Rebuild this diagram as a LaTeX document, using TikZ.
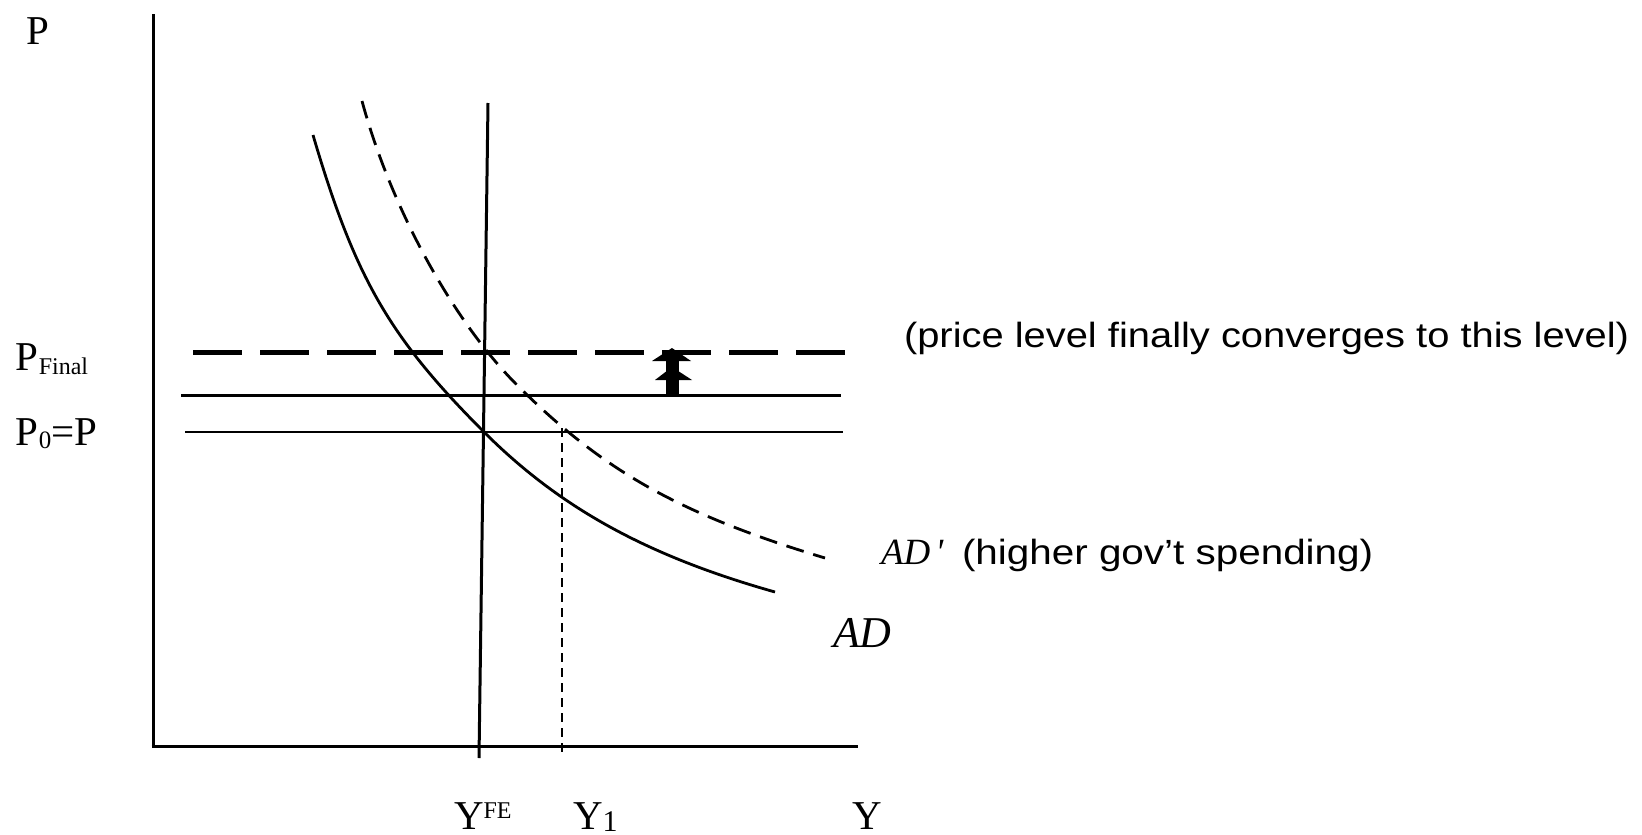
\documentclass[tikz,border=0pt]{standalone}
\usepackage{fontspec}
\usepackage{graphicx}
\setmainfont{Liberation Serif}
\newfontfamily\sansf{Liberation Sans}
\begin{document}
\begin{tikzpicture}[x=1pt,y=-1pt,
  axisline/.style={line width=3pt},
  curvesolid/.style={line width=2.8pt},
  curvedash/.style={line width=2.8pt,dash pattern=on 18pt off 10pt},
  lbl/.style={anchor=base west,inner sep=0pt,outer sep=0pt},
  serifbig/.style={font=\fontsize{41}{41}\selectfont},
  sanslbl/.style={font=\sansf\fontsize{35}{35}\selectfont}]
\useasboundingbox (0,0) rectangle (1642,835);
% axes
\coordinate (O) at (153,746);
\coordinate (Ytop) at (153,14);
\coordinate (Xend) at (858,746);
\draw[axisline] (Ytop) -- (153,747.5);
\draw[axisline] (151.5,746) -- (Xend);
% horizontal levels
\coordinate (PFa) at (193,352); \coordinate (PFb) at (845,352);
\coordinate (PMa) at (181,395); \coordinate (PMb) at (841,395);
\coordinate (P0a) at (185,432); \coordinate (P0b) at (843,432);
\draw[line width=5pt,dash pattern=on 49pt off 18pt] (PFa) -- (PFb);
\draw[line width=3pt] (PMa) -- (PMb);
\draw[line width=2.6pt] (P0a) -- (P0b);
% vertical full-employment line
\coordinate (FEtop) at (488,103); \coordinate (FEbot) at (479,758);
\draw[line width=3pt] (FEtop) -- (FEbot);
% Y1 dashed
\coordinate (Y1top) at (562,428); \coordinate (Y1bot) at (562,755);
\draw[line width=2.6pt,dash pattern=on 9pt off 6pt] (Y1top) -- (Y1bot);
% AD curve
\coordinate (ADa) at (313,135); \coordinate (ADm) at (484,432); \coordinate (ADb) at (775,592);
\draw[curvesolid] (ADa) .. controls (355,277.8) and (389.2,337.2) .. (ADm)
  .. controls (560,508) and (647.3,556) .. (ADb);
% AD' curve
\coordinate (ADpa) at (362,101); \coordinate (ADpm) at (517,385); \coordinate (ADpb) at (825,558);
\draw[curvedash] (ADpa) .. controls (390.7,207.1) and (452.7,320.7) .. (ADpm)
  .. controls (603.1,471.1) and (680.1,514.4) .. (ADpb);
% double arrow
\fill (666,358) rectangle (679,395);
\fill (652,361) -- (672,348) -- (691,361) -- cycle;
\fill (655,380) -- (672,367) -- (692,380) -- cycle;
% labels
\node[lbl,serifbig] (lP) at (27,45) {P};
\node[lbl,serifbig] (lPF) at (16,370) {P\raisebox{-4pt}{\fontsize{24}{24}\selectfont Final}};
\node[lbl,serifbig] (lP0) at (16,445) {P\raisebox{-3pt}{\fontsize{25}{25}\selectfont 0}=P};
\node[lbl,serifbig] (lYFE) at (454,829) {Y\raisebox{11pt}{\fontsize{24}{24}\selectfont FE}};
\node[lbl,serifbig] (lY1) at (573,829) {Y\raisebox{-2pt}{\fontsize{30}{30}\selectfont 1}};
\node[lbl,serifbig] (lY) at (852,829) {Y};
\node[lbl,font=\fontsize{37}{37}\selectfont] (lADp) at (881,564) {\textit{AD\hspace{5pt}\textquotesingle}};
\node[lbl,sanslbl] (tADp) at (962,564) {\scalebox{1.155}[1]{(higher gov’t spending)}};
\node[lbl,font=\fontsize{44}{44}\selectfont] (lAD) at (833,647) {\textit{AD}};
\node[lbl,sanslbl] (tPF) at (904,347) {\scalebox{1.14}[1]{(price level finally converges to this level)}};
\end{tikzpicture}
\end{document}
